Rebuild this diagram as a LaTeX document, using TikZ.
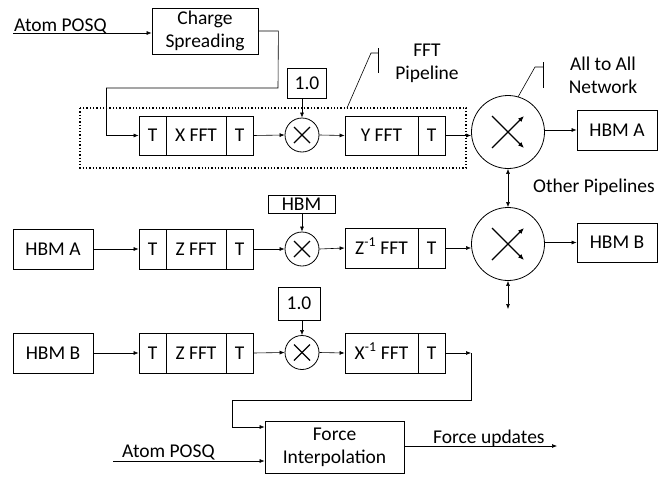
\documentclass[tikz,border=0pt]{standalone}
\usepackage{fontspec}
\setmainfont{Carlito}
\usetikzlibrary{arrows.meta,calc}
\begin{document}
\begin{tikzpicture}[x=1pt,y=-1pt,
  font=\fontsize{19.5}{23}\selectfont,
  box/.style={draw,line width=0.8pt,inner sep=0pt,align=center},
  sbox/.style={box,text height=12.6pt,text depth=0pt},
  mul/.style={draw,circle,line width=0.8pt,minimum size=34pt,inner sep=0pt},
  net/.style={draw,circle,line width=0.8pt,minimum size=73pt,inner sep=0pt},
  conn/.style={line width=0.6pt,-{Latex[length=5pt,width=4pt]}},
  dconn/.style={line width=0.6pt,{Latex[length=5pt,width=4pt]}-{Latex[length=5pt,width=4pt]}},
  plain/.style={line width=0.6pt},
  lbl/.style={inner sep=0pt,align=center}]
\useasboundingbox (0,0) rectangle (665,477);

% ---- top ----
\node[box,minimum width=106pt,minimum height=46pt] (cs) at (205,31) {Charge\\Spreading};
\node[lbl,anchor=base west] (posq1) at (14,31) {Atom POSQ};
\coordinate (in1) at (13,33);
\draw[conn] (in1) -- (in1 -| cs.west);

% ---- row 1 ----
\node[sbox,minimum width=27pt,minimum height=39pt] (t1a) at (152.5,135.5) {T};
\node[sbox,minimum width=60pt,minimum height=39pt] (x1) at (196,135.5) {X FFT};
\node[sbox,minimum width=27pt,minimum height=39pt] (t1b) at (239.5,135.5) {T};
\node[mul] (m1) at (302,135) {};
\node[sbox,minimum width=39pt,minimum height=30pt] (one1) at (307,83) {1.0};
\node[sbox,minimum width=73pt,minimum height=39pt] (y1) at (381.5,135.5) {Y FFT};
\node[sbox,minimum width=27pt,minimum height=39pt] (t1c) at (431.5,135.5) {T};
\node[net] (n1) at (508,132) {};
\node[sbox,minimum width=80pt,minimum height=40pt] (hA1) at (617,130) {HBM A};

\draw[plain] (cs.east) -- ++(20,0) coordinate (c1) -- (278,88) coordinate (c2) -- (106,88) coordinate (c3);
\draw[conn] (c3) -- (106,135.5) -- (t1a.west);
\draw[conn] (t1b.east) -- (m1.west);
\draw[conn] (m1.east) -- (y1.west);
\draw[conn] (t1c.east) -- (n1.west |- t1c.east);
\draw[conn] (n1.east |- hA1.west) -- (hA1.west);
\draw[conn] (one1.south -| m1.north) -- (m1.north);

\draw[dotted,line width=1.3pt] (80,108) rectangle (466,168);
\draw[plain] (347,108) -- (371,53) -- (378,53);
\draw[plain] (378,48) -- (378,73);
\node[lbl] (fftlbl) at (427,63.5) {FFT\\Pipeline};
\draw[plain] (518,97) -- (535,67) -- (543,67);
\draw[plain] (543,62) -- (543,88);
\node[lbl] (netlbl) at (603,75.5) {All to All\\Network};
\node[lbl,anchor=base] (other) at (594,192) {Other Pipelines};

% ---- row 2 ----
\node[sbox,minimum width=80pt,minimum height=40pt] (hA2) at (53,249) {HBM A};
\node[sbox,minimum width=27pt,minimum height=40pt] (t2a) at (152.5,249) {T};
\node[sbox,minimum width=60pt,minimum height=40pt] (z2) at (196,249) {Z FFT};
\node[sbox,minimum width=27pt,minimum height=40pt] (t2b) at (239.5,249) {T};
\node[mul] (m2) at (302,249) {};
\node[sbox,minimum width=67pt,minimum height=18pt] (hbm) at (301.5,204) {HBM};
\node[sbox,minimum width=73pt,minimum height=40pt] (zi2) at (381.5,248) {Z\textsuperscript{-1} FFT};
\node[sbox,minimum width=27pt,minimum height=40pt] (t2c) at (431.5,248) {T};
\node[net] (n2) at (508,244) {};
\node[sbox,minimum width=80pt,minimum height=39pt] (hB2) at (617,242.5) {HBM B};

\draw[conn] (hA2.east) -- (t2a.west);
\draw[conn] (t2b.east) -- (m2.west);
\draw[conn] (m2.east) -- (zi2.west);
\draw[conn] (hbm.south -| m2.north) -- (m2.north);
\draw[conn] (t2c.east) -- (n2.west |- t2c.east);
\draw[conn] (n2.east |- hB2.west) -- (hB2.west);
\draw[dconn] (n1.south) -- (n2.north);
\coordinate (dn) at (508,309);
\draw[dconn] (n2.south) -- (dn);

% ---- row 3 ----
\node[sbox,minimum width=80pt,minimum height=40pt] (hB3) at (53,353) {HBM B};
\node[sbox,minimum width=27pt,minimum height=40pt] (t3a) at (152.5,353) {T};
\node[sbox,minimum width=60pt,minimum height=40pt] (z3) at (196,353) {Z FFT};
\node[sbox,minimum width=27pt,minimum height=40pt] (t3b) at (239.5,353) {T};
\node[mul] (m3) at (302,352.5) {};
\node[sbox,minimum width=42pt,minimum height=33pt] (one3) at (299,303.5) {1.0};
\node[sbox,minimum width=73pt,minimum height=40pt] (xi3) at (381.5,353) {X\textsuperscript{-1} FFT};
\node[sbox,minimum width=27pt,minimum height=40pt] (t3c) at (431.5,353) {T};

\draw[conn] (hB3.east) -- (t3a.west);
\draw[conn] (t3b.east) -- (m3.west);
\draw[conn] (m3.east) -- (xi3.west);
\draw[conn] (one3.south -| m3.north) -- (m3.north);
\coordinate (r3) at (471,353);
\draw[conn] (t3c.east) -- (r3);

% ---- bottom ----
\node[box,minimum width=139pt,minimum height=52pt] (fi) at (334.5,447) {Force\\Interpolation};
\draw[plain] (r3) -- (471,400) -- (232,400) coordinate (c4);
\draw[conn] (c4) -- (232,427) -- (232,427 -| fi.west);
\coordinate (in2) at (113,461);
\draw[conn] (in2) -- (in2 -| fi.west);
\node[lbl,anchor=base west] (posq2) at (122,457) {Atom POSQ};
\coordinate (out) at (557,446);
\draw[conn] (out -| fi.east) -- (out);
\node[lbl,anchor=base west] (fu) at (433,443) {Force updates};

% ---- crosses ----
\foreach \m in {m1,m2,m3}{
  \draw[line width=1.1pt] ($(\m)+(-8,-8)$) -- ($(\m)+(8,8)$);
  \draw[line width=1.1pt] ($(\m)+(-8,8)$) -- ($(\m)+(8,-8)$);
}
\foreach \n in {n1,n2}{
  \draw[line width=1.4pt,-{Latex[length=6pt,width=5pt]}] ($(\n)+(-16,16)$) -- ($(\n)+(16,-16)$);
  \draw[line width=1.4pt,-{Latex[length=6pt,width=5pt]}] ($(\n)+(-16,-16)$) -- ($(\n)+(16,16)$);
}
\end{tikzpicture}
\end{document}
